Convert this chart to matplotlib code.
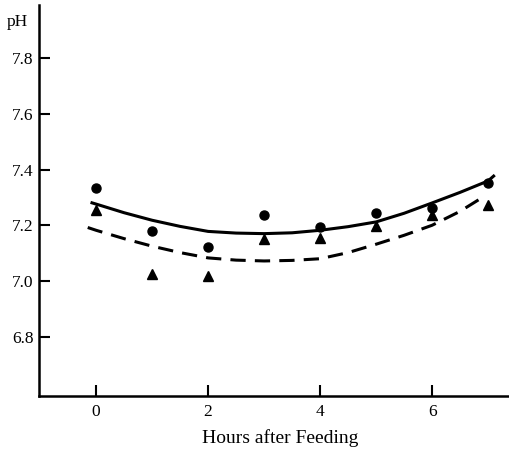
import matplotlib.pyplot as plt

plt.rcParams["font.family"] = "Liberation Serif"

# measured points
hours = [0, 1, 2, 3, 4, 5, 6, 7]
ph_circle = [7.333, 7.180, 7.122, 7.238, 7.194, 7.244, 7.262, 7.353]
ph_triangle = [7.255, 7.024, 7.017, 7.149, 7.156, 7.196, 7.238, 7.272]

# fitted curves
solid_x = [-0.1, 0, 0.5, 1, 1.5, 2, 2.5, 3, 3.5, 4, 4.5, 5, 5.5, 6, 6.5, 7, 7.12]
solid_y = [7.282, 7.276, 7.245, 7.218, 7.196, 7.178, 7.172, 7.170, 7.173, 7.182,
           7.195, 7.212, 7.243, 7.280, 7.318, 7.359, 7.380]
dash_x = [-0.15, 0, 0.5, 1, 1.5, 2, 2.5, 3, 3.5, 4, 4.5, 5, 5.5, 6, 6.5, 6.9]
dash_y = [7.192, 7.182, 7.152, 7.125, 7.102, 7.083, 7.075, 7.072, 7.074, 7.080,
          7.102, 7.132, 7.164, 7.200, 7.250, 7.300]

fig = plt.figure(figsize=(5.1, 4.53), dpi=100)
ax = fig.add_axes([0.0765, 0.126, 0.92, 0.863])

ax.plot(solid_x, solid_y, color="black", lw=2.2, solid_capstyle="butt")
ax.plot(dash_x, dash_y, color="black", lw=2.2, dashes=(5, 3))
ax.plot(hours, ph_circle, "o", color="black", ms=6.5)
ax.plot(hours, ph_triangle, "^", color="black", ms=7)

ax.set_xlim(-1.02, 7.36)
ax.set_ylim(6.588, 7.99)
ax.set_xticks([0, 2, 4, 6])
ax.set_yticks([6.8, 7.0, 7.2, 7.4, 7.6, 7.8])
ax.set_yticklabels(["6.8", "7.0", "7.2", "7.4", "7.6", "7.8"])

for s in ["top", "right"]:
    ax.spines[s].set_visible(False)
for s in ["left", "bottom"]:
    ax.spines[s].set_linewidth(1.8)

ax.tick_params(direction="in", length=8, width=1.5, labelsize=12.5)
ax.tick_params(axis="y", pad=4)
ax.tick_params(axis="x", pad=6)

ax.set_xlabel("Hours after Feeding", fontsize=14)
ax.xaxis.set_label_coords(0.515, -0.085)
fig.text(17 / 510, 1 - 22 / 453, "pH", fontsize=12.5, ha="center", va="center")

fig.savefig("out.png", dpi=100)
